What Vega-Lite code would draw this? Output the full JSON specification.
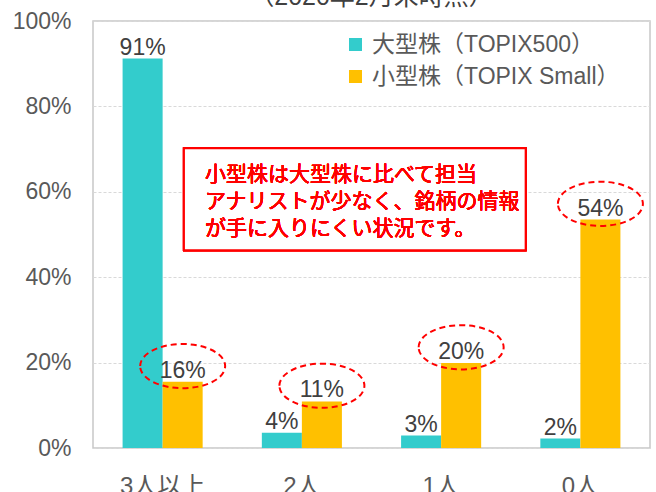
{
  "$schema": "https://vega.github.io/schema/vega-lite/v6.json",
  "autosize": {"type": "none"},
  "padding": {"left": 93, "top": 21, "right": 6, "bottom": 44},
  "width": 557,
  "height": 427,
  "title": {
    "text": "（2020年2月末時点）",
    "fontSize": 25,
    "fontWeight": "normal",
    "color": "#404040",
    "font": "Liberation Sans, Noto Sans CJK JP",
    "frame": "group",
    "offset": 0,
    "anchor": "middle"
  },
  "config": {
    "view": {"stroke": "#c8c8c8", "strokeWidth": 1.5},
    "font": "Liberation Sans, Noto Sans CJK JP"
  },
  "data": {
    "values": [
      {"cat": "3人以上", "series": "大型株（TOPIX500）", "value": 91.2, "label": "91%"},
      {"cat": "3人以上", "series": "小型株（TOPIX Small）", "value": 15.5, "label": "16%"},
      {"cat": "2人", "series": "大型株（TOPIX500）", "value": 3.6, "label": "4%"},
      {"cat": "2人", "series": "小型株（TOPIX Small）", "value": 10.9, "label": "11%"},
      {"cat": "1人", "series": "大型株（TOPIX500）", "value": 2.9, "label": "3%"},
      {"cat": "1人", "series": "小型株（TOPIX Small）", "value": 19.9, "label": "20%"},
      {"cat": "0人", "series": "大型株（TOPIX500）", "value": 2.2, "label": "2%"},
      {"cat": "0人", "series": "小型株（TOPIX Small）", "value": 53.5, "label": "54%"}
    ]
  },
  "layer": [
    {
      "layer": [
        {
          "mark": {"type": "bar"},
          "encoding": {
            "x": {
              "field": "cat", "type": "nominal", "sort": ["3人以上", "2人", "1人", "0人"],
              "scale": {"paddingInner": 0.425, "paddingOuter": 0.2125},
              "axis": {"title": null, "labelAngle": 0, "domain": false, "ticks": false, "labelFontSize": 24, "labelColor": "#595959", "labelPadding": 26, "labelFont": "Liberation Sans, Noto Sans CJK JP"}
            },
            "xOffset": {"field": "series", "type": "nominal", "sort": ["大型株（TOPIX500）", "小型株（TOPIX Small）"], "scale": {"paddingInner": 0, "paddingOuter": 0}},
            "y": {
              "field": "value", "type": "quantitative",
              "scale": {"domain": [0, 100], "nice": false},
              "axis": {"title": null, "values": [0, 20, 40, 60, 80, 100], "labelExpr": "datum.value + '%'", "domain": false, "ticks": false, "labelFontSize": 23, "labelColor": "#595959", "labelPadding": 22, "gridColor": "#d9d9d9", "gridDash": [3, 2], "gridWidth": 1, "labelFont": "Liberation Sans"}
            },
            "color": {
              "field": "series", "type": "nominal",
              "sort": ["大型株（TOPIX500）", "小型株（TOPIX Small）"],
              "scale": {"range": ["#33CCCC", "#FFC000"]},
              "legend": {
                "title": null, "orient": "none", "legendX": 251, "legendY": 12,
                "symbolType": "square", "symbolSize": 169, "symbolStrokeWidth": 0,
                "labelFontSize": 23, "labelColor": "#595959", "labelOffset": 5, "labelLimit": 0,
                "rowPadding": 8, "padding": 0, "labelFont": "Liberation Sans, Noto Sans CJK JP"
              }
            }
          }
        },
        {
          "mark": {"type": "text", "baseline": "alphabetic", "dy": -4, "fontSize": 23, "color": "#404040", "font": "Liberation Sans"},
          "encoding": {
            "x": {"field": "cat", "type": "nominal", "sort": ["3人以上", "2人", "1人", "0人"]},
            "xOffset": {"field": "series", "type": "nominal", "sort": ["大型株（TOPIX500）", "小型株（TOPIX Small）"]},
            "y": {"field": "value", "type": "quantitative"},
            "text": {"field": "label"}
          }
        },
        {
          "transform": [{"filter": "datum.series === '小型株（TOPIX Small）'"}],
          "mark": {
            "type": "point",
            "shape": "M -1 -0.37 A 1 0.52 0 1 1 1 -0.37 A 1 0.52 0 1 1 -1 -0.37 Z",
            "size": 7225, "filled": false, "stroke": "#FF0000", "strokeWidth": 2, "strokeDash": [6, 4], "opacity": 1
          },
          "encoding": {
            "x": {"field": "cat", "type": "nominal", "sort": ["3人以上", "2人", "1人", "0人"]},
            "xOffset": {"field": "series", "type": "nominal", "sort": ["大型株（TOPIX500）", "小型株（TOPIX Small）"]},
            "y": {"field": "value", "type": "quantitative"}
          }
        }
      ]
    },
    {
      "layer": [
        {
          "mark": {"type": "rect", "fill": "#FFFFFF", "stroke": "#FF0000", "strokeWidth": 2},
          "encoding": {
            "x": {"datum": 0.653, "type": "quantitative", "scale": {"domain": [0, 4], "nice": false, "zero": false}, "axis": null},
            "x2": {"datum": 3.107},
            "y": {"datum": 70.2, "type": "quantitative"},
            "y2": {"datum": 46.3}
          }
        },
        {
          "mark": {"type": "text", "align": "left", "baseline": "middle", "fontSize": 21, "lineHeight": 27, "color": "#FF0000", "font": "Noto Sans CJK JP"},
          "encoding": {
            "x": {"datum": 0.804, "type": "quantitative"},
            "y": {"datum": 63.9, "type": "quantitative"},
            "text": {"value": ["小型株は大型株に比べて担当", "アナリストが少なく、銘柄の情報", "が手に入りにくい状況です。"]}
          }
        }
      ]
    }
  ],
  "resolve": {"scale": {"x": "independent"}}
}
